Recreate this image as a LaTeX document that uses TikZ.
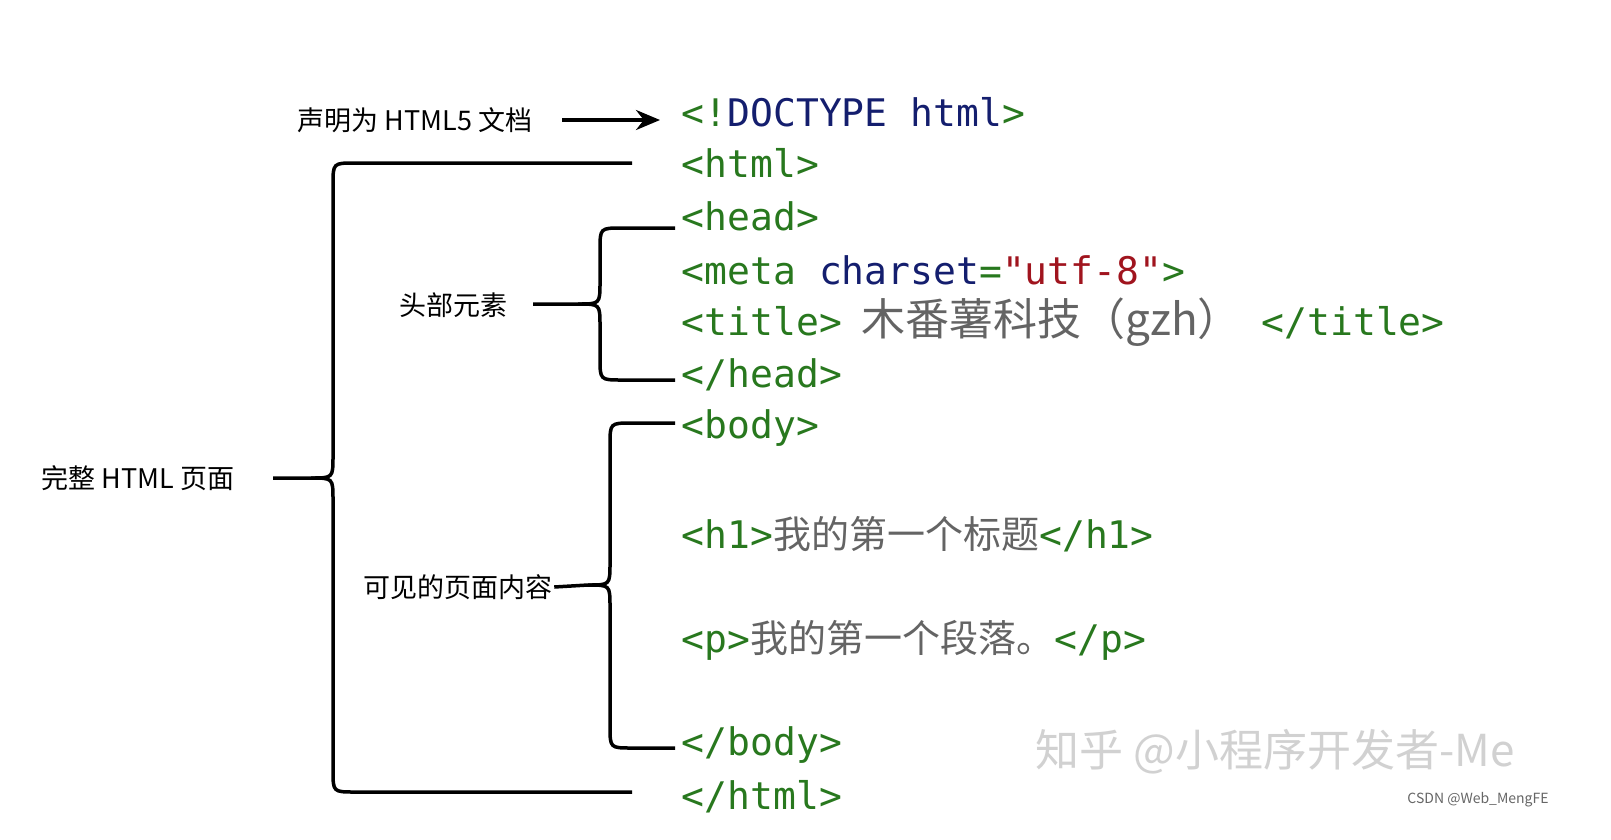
\documentclass[tikz,border=0pt]{standalone}
\usepackage{fontspec}
\setmainfont{Noto Sans CJK SC}
\setmonofont{DejaVu Sans Mono}
\newfontfamily\cjk{Noto Sans CJK SC}
\usetikzlibrary{arrows.meta}
\definecolor{taggreen}{RGB}{40,120,30}
\definecolor{kwblue}{RGB}{20,30,110}
\definecolor{strred}{RGB}{160,20,30}
\definecolor{txtgray}{RGB}{100,100,100}
\tikzset{every picture/.style={line width=3.5pt}}
\tikzset{
  code/.style={anchor=west, inner sep=0pt, font=\fontsize{38}{40}\selectfont\ttfamily},
  lbl/.style={inner sep=0pt, font=\fontsize{27}{30}\selectfont\cjk},
}
\newcommand{\tg}[1]{\textcolor{taggreen}{#1}}
\newcommand{\zh}[1]{{\cjk\color{txtgray}#1}}

\begin{document}
\begin{tikzpicture}[x=1pt,y=-1pt]
\useasboundingbox[fill=white] (0,0) rectangle (1611,839);

% Code lines
\node[code] (doctype) at (680,112) {\tg{<!}\textcolor{kwblue}{DOCTYPE html}\tg{>}};
\node[code] (html) at (680,163) {\tg{<html>}};
\node[code] (head) at (680,216) {\tg{<head>}};
\node[code] (meta) at (680,270) {\tg{<meta} \textcolor{kwblue}{charset}\tg{=}\textcolor{strred}{"utf-8"}\tg{>}};
\node[code] (title) at (680,322) {\tg{<title>}\hspace{20pt}{\fontsize{44}{46}\selectfont\zh{木番薯科技（gzh）}}\hspace{20pt}\tg{</title>}};
\node[code] (headend) at (680,375) {\tg{</head>}};
\node[code] (body) at (680,428) {\tg{<body>}};
\node[code] (hone) at (680,534) {\tg{<h1>}\zh{我的第一个标题}\tg{</h1>}};
\node[code] (para) at (680,640) {\tg{<p>}\zh{我的第一个段落。}\tg{</p>}};
\node[code] (bodyend) at (680,745) {\tg{</body>}};
\node[code] (htmlend) at (680,797) {\tg{</html>}};

% Labels
\node[lbl] (decl) at (415,120) {声明为 HTML5 文档};
\node[lbl] (headlbl) at (453,305) {头部元素};
\node[lbl] (page) at (138,478) {完整 HTML 页面};
\node[lbl] (visible) at (458,587) {可见的页面内容};

% Arrow
\coordinate (arrtip) at (660,120);
\draw[-{Stealth[length=24pt,width=20pt]}] ([xshift=28pt]decl.east) -- (arrtip);

% Brace: whole page
\draw (632,163) -- (355,163) .. controls (333,163) .. (333,185) -- (333,456)
  .. controls (333,478) .. (311,478) -- (273,478);
\draw (632,792) -- (355,792) .. controls (333,792) .. (333,770) -- (333,500)
  .. controls (333,478) .. (311,478);
% Brace: head
\draw (675,228) -- (622,228) .. controls (600,228) .. (600,250) -- (600,282)
  .. controls (600,304) .. (578,304) -- (533,304);
\draw (675,380) -- (622,380) .. controls (600,380) .. (600,358) -- (600,326)
  .. controls (600,304) .. (578,304);
% Brace: body
\draw (675,423) -- (632,423) .. controls (610,423) .. (610,445) -- (610,563)
  .. controls (610,585) .. (588,585) -- (visible.east);
\draw (675,748) -- (632,748) .. controls (610,748) .. (610,726) -- (610,607)
  .. controls (610,585) .. (588,585);

% Watermarks
\node[inner sep=0pt, font=\fontsize{44}{46}\selectfont\cjk, text=black!18] (zhihu) at (1275,752) {知乎 @小程序开发者-Me};
\node[inner sep=0pt, font=\fontsize{14}{16}\selectfont\cjk, text=black!60] (csdn) at (1478,800) {CSDN @Web\_MengFE};
\end{tikzpicture}
\end{document}
